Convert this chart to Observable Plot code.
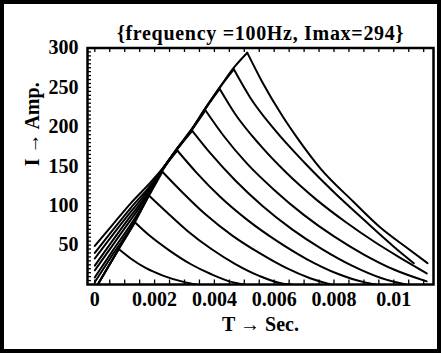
<!DOCTYPE html>
<html><head><meta charset="utf-8">
<script src="https://cdn.jsdelivr.net/npm/d3@7"></script>
<script src="https://cdn.jsdelivr.net/npm/@observablehq/plot@0.6"></script>
<style>
html,body{margin:0;padding:0;background:#fff;}
#wrap{position:relative;width:441px;height:353px;overflow:hidden;background:#fff;}
#border{position:absolute;left:0;top:0;width:441px;height:353px;box-sizing:border-box;border:4px solid #000;pointer-events:none;}
</style></head><body>
<div id="wrap"><div id="chart"></div><div id="border"></div></div>
<script>
const title = "{frequency =100Hz, Imax=294}";
const xLabel = "T \u2192 Sec.";
const yLabel = "I \u2192 Amp.";
const xTickValues = [0, 0.002, 0.004, 0.006, 0.008, 0.01];
const xTickLabels = ["0", "0.002", "0.004", "0.006", "0.008", "0.01"];
const yTickValues = [50, 100, 150, 200, 250, 300];
const yTickLabels = ["50", "100", "150", "200", "250", "300"];
const xMinorTicks = [0, 0.0005, 0.001, 0.0015, 0.002, 0.0025, 0.003, 0.0035, 0.004, 0.0045, 0.005, 0.0055, 0.006, 0.0065, 0.007, 0.0075, 0.008, 0.0085, 0.009, 0.0095, 0.01, 0.0105, 0.011];
const yMinorTicks = [5, 10, 15, 20, 25, 30, 35, 40, 45, 50, 55, 60, 65, 70, 75, 80, 85, 90, 95, 100, 105, 110, 115, 120, 125, 130, 135, 140, 145, 150, 155, 160, 165, 170, 175, 180, 185, 190, 195, 200, 205, 210, 215, 220, 225, 230, 235, 240, 245, 250, 255, 260, 265, 270, 275, 280, 285, 290, 295];

// rising part of each curve: [time (s), current (A)]
const rise1 = [[0.0001,0],[0.0008,45]];
const rise2 = [[0.0001,0],[0.0008,45],[0.00134,79]];
const rise3 = [[0.0001,0],[0.0008,45],[0.00134,79],[0.00181,113]];
const rise4 = [[0,3],[0.0006,38],[0.0012,72],[0.0018,112],[0.00226,143]];
const rise5 = [[0,9],[0.0006,43],[0.0012,76],[0.0018,113],[0.00226,145],[0.00276,170]];
const rise6 = [[0,18],[0.0006,50],[0.0012,82],[0.0018,115],[0.00226,145],[0.00276,172],[0.00326,195]];
const rise7 = [[0,24],[0.0006,56],[0.0012,87],[0.0018,117],[0.00226,145],[0.00276,172],[0.00326,197],[0.0037,221]];
const rise8 = [[0,33],[0.0006,63],[0.0012,92],[0.0018,120],[0.00226,146],[0.00276,172],[0.00326,197],[0.0037,223],[0.00418,248]];
const rise9 = [[0,40],[0.0006,69],[0.0012,97],[0.0018,123],[0.00226,146],[0.00276,173],[0.00326,198],[0.0037,223],[0.00418,250],[0.00465,273]];
const rise10 = [[0,49],[0.0006,76],[0.0012,103],[0.0018,127],[0.00226,147],[0.00276,173],[0.00326,198],[0.0037,224],[0.00418,250],[0.00465,275],[0.0051,294]];

// decaying part of each curve
const decay1 = [[0.0008,45],[0.0012,33],[0.0017,21],[0.0023,11],[0.0030,3],[0.0034,0]];
const decay2 = [[0.00134,79],[0.0018,63],[0.0025,43],[0.0032,26],[0.0039,13],[0.0046,3],[0.0050,0]];
const decay3 = [[0.00181,113],[0.0024,92],[0.0031,68],[0.0039,45],[0.0047,26],[0.0055,11],[0.0063,1],[0.0066,0]];
const decay4 = [[0.00226,143],[0.0029,118],[0.0037,89],[0.0046,62],[0.0055,40],[0.0064,21],[0.0072,8],[0.0079,0]];
const decay5 = [[0.00276,170],[0.0034,142],[0.0042,111],[0.0051,82],[0.0061,55],[0.0071,32],[0.0081,14],[0.0090,3],[0.0094,0]];
const decay6 = [[0.00326,195],[0.0039,165],[0.0047,132],[0.0056,100],[0.0066,70],[0.0076,45],[0.0086,24],[0.0096,8],[0.0104,0]];
const decay7 = [[0.0037,221],[0.0043,189],[0.0051,153],[0.0060,120],[0.0070,88],[0.0080,61],[0.0090,38],[0.0100,19],[0.0111,4]];
const decay8 = [[0.00418,248],[0.0047,216],[0.0055,178],[0.0064,142],[0.0074,108],[0.0084,79],[0.0094,53],[0.0103,32],[0.0111,14]];
const decay9 = [[0.00465,273],[0.0052,237],[0.0060,197],[0.0070,155],[0.0080,117],[0.0090,82],[0.0100,48],[0.01067,27]];
const decay10 = [[0.0051,294],[0.0056,257],[0.00627,214],[0.00677,186],[0.00755,147],[0.00865,105],[0.00956,72],[0.01046,46],[0.01113,27]];

const rises = [rise1, rise2, rise3, rise4, rise5, rise6, rise7, rise8, rise9, rise10];
const decays = [decay1, decay2, decay3, decay4, decay5, decay6, decay7, decay8, decay9, decay10];
const toRows = (list) => list.flatMap((c, k) => c.map(([t, i]) => ({k, t, i})));
const riseRows = toRows(rises);
const decayRows = toRows(decays);

const font = "'Liberation Serif', 'Times New Roman', serif";
const chart = Plot.plot({
  width: 441,
  height: 353,
  marginLeft: 87,
  marginRight: 8,
  marginTop: 47.5,
  marginBottom: 69,
  style: {fontFamily: font, fontWeight: "bold", fontSize: "20px", background: "transparent", color: "#000"},
  x: {domain: [-0.000244, 0.011328], axis: null},
  y: {domain: [0, 300], axis: null},
  marks: [
    Plot.line(riseRows, {x: "t", y: "i", z: "k", stroke: "#000", strokeWidth: 2, curve: "monotone-x", clip: true}),
    Plot.line(decayRows, {x: "t", y: "i", z: "k", stroke: "#000", strokeWidth: 2, curve: "monotone-x", clip: true}),
    Plot.tickX(xMinorTicks, {x: d => d, stroke: "#000", strokeWidth: 1.3, insetBottom: 232}),
    Plot.tickX(xMinorTicks, {x: d => d, stroke: "#000", strokeWidth: 1.3, insetTop: 232}),
    Plot.tickY(yMinorTicks, {y: d => d, stroke: "#000", strokeWidth: 1.3, insetRight: 342}),
    Plot.frame({stroke: "#000", strokeWidth: 2.5}),
    Plot.text(xTickValues, {x: d => d, frameAnchor: "bottom", dy: 21, text: (d, i) => xTickLabels[i], fontSize: 20, fontWeight: "bold"}),
    Plot.text(yTickValues, {y: d => d, frameAnchor: "left", dx: -9, textAnchor: "end", text: (d, i) => yTickLabels[i], fontSize: 20, fontWeight: "bold"}),
    Plot.text([title], {frameAnchor: "top", dy: -22, fontSize: 20, fontWeight: "bold"}),
    Plot.text([xLabel], {frameAnchor: "bottom", dy: 46, fontSize: 20, fontWeight: "bold"}),
    Plot.text([yLabel], {frameAnchor: "left", dx: -55, rotate: -90, fontSize: 20, fontWeight: "bold"})
  ]
});
chart.querySelectorAll("text").forEach(el => {
  if (el.textContent === title) el.style.letterSpacing = "0.7px";
});
document.getElementById("chart").appendChild(chart);
</script>
</body></html>
